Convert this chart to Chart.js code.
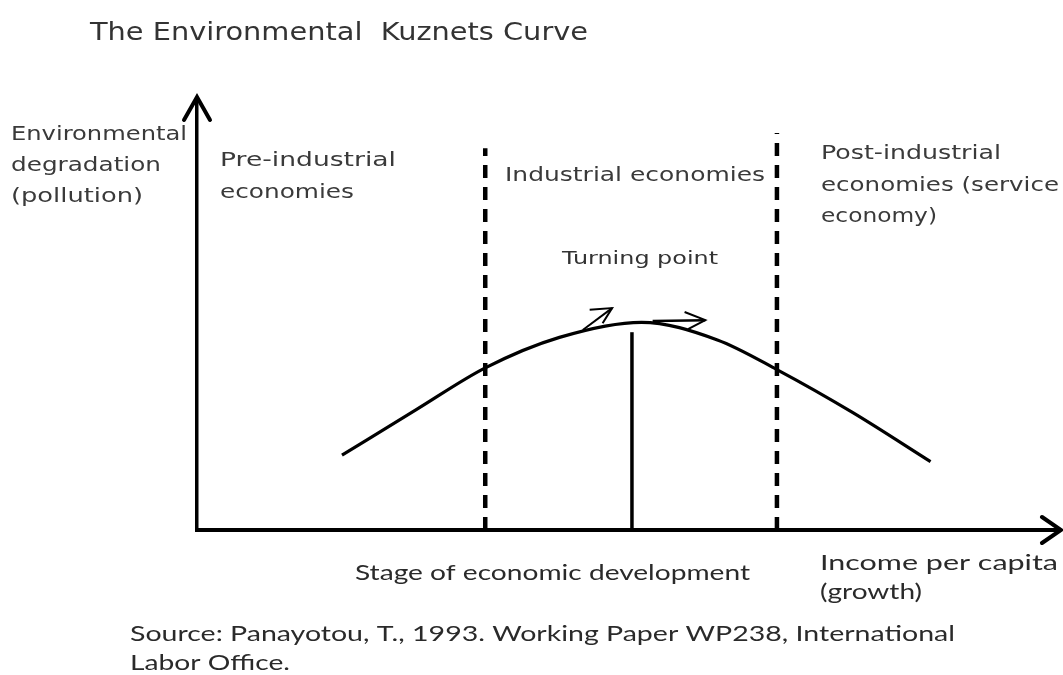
<!DOCTYPE html>
<html>
<head>
<meta charset="utf-8">
<title>The Environmental Kuznets Curve</title>
<script src="https://cdn.jsdelivr.net/npm/chart.js@4.4.0/dist/chart.umd.min.js"></script>
<style>
    html, body { margin: 0; padding: 0; background: #fff; }
    #ekc-chart { display: block; }
</style>
</head>
<body>
<canvas id="ekc-chart" width="1063" height="675"></canvas>
<script>
// Curve (income per capita vs. degradation, 0-100 scale)
const curveX = [16.8, 25.5, 33.4, 42.0, 51.5, 60.3, 67.3, 76.0, 85.0];
const curveY = [17.4, 28.1, 37.7, 44.8, 48.3, 44.2, 37.2, 27.3, 15.9];

// Stage boundaries (dashed) and turning point
const stageBoundaryX = [33.4, 67.2];
const stageBoundaryTop = [88.8, 92.3];
const turningPointX = [50.4];
const turningPointTop = [46.0];

// Little arrows at the top of the curve: shaft [from, to], head [wing, tip, wing]
const upArrowShaft = [[44.7, 46.5], [48.1, 51.6]];
const upArrowHead = [[45.5, 51.2], [48.1, 51.6], [47.0, 48.1]];
const rightArrowShaft = [[52.8, 48.6], [58.9, 48.8]];
const rightArrowHead = [[56.5, 50.7], [58.9, 48.8], [56.9, 46.7]];

// Texts
const chartTitle = 'The Environmental  Kuznets Curve';
const yAxisLabel = ['Environmental', 'degradation', '(pollution)'];
const stageLabels = [
    ['Pre-industrial', 'economies'],
    ['Industrial economies'],
    ['Post-industrial', 'economies (service', 'economy)']
];
const turningLabel = 'Turning point';
const xAxisLabel = 'Stage of economic development';
const xAxisEndLabel = ['Income per capita', '(growth)'];
const sourceNote = ['Source: Panayotou, T., 1993. Working Paper WP238, International', 'Labor Office.'];

const toPoints = pairs => pairs.map(p => ({ x: p[0], y: p[1] }));

function lineSet(points, extra) {
    return Object.assign({
        data: points,
        showLine: true,
        borderColor: '#000',
        borderWidth: 3,
        pointRadius: 0,
        fill: false
    }, extra || {});
}

const datasets = [
    lineSet(curveX.map((x, i) => ({ x: x, y: curveY[i] })), { cubicInterpolationMode: 'monotone', borderWidth: 3.2 }),
    ...stageBoundaryX.map((x, i) => lineSet([{ x: x, y: 0 }, { x: x, y: stageBoundaryTop[i] }], {
        borderWidth: 4.5, borderDash: [13, 9]
    })),
    ...turningPointX.map((x, i) => lineSet([{ x: x, y: 0 }, { x: x, y: turningPointTop[i] }], { borderWidth: 3.5 })),
    lineSet(toPoints(upArrowShaft), { borderWidth: 2 }),
    lineSet(toPoints(upArrowHead), { borderWidth: 2 }),
    lineSet(toPoints(rightArrowShaft), { borderWidth: 2.5 }),
    lineSet(toPoints(rightArrowHead), { borderWidth: 2 })
];

// Draw one line of text squeezed/stretched to the width it has in the picture
function fitText(ctx, text, x, y, w, font) {
    ctx.font = font;
    const m = ctx.measureText(text).width;
    ctx.save();
    ctx.translate(x, y);
    ctx.scale(w / m, 1);
    ctx.fillText(text, 0, 0);
    ctx.restore();
}

const sans = '"DejaVu Sans", Verdana, sans-serif';
const calib = 'Lato, "Open Sans", sans-serif';

const textLayout = [
    { lines: [chartTitle], x: 90, y: [40], w: [498], font: '24px ' + sans, color: '#333' },
    { lines: yAxisLabel, x: 11, y: [140, 171, 202], w: [176, 150, 132], font: '19px ' + sans, color: '#3a3a3a' },
    { lines: stageLabels[0], x: 220, y: [166, 198], w: [176, 134], font: '19px ' + sans, color: '#3a3a3a' },
    { lines: stageLabels[1], x: 505, y: [181], w: [260], font: '19px ' + sans, color: '#3a3a3a' },
    { lines: stageLabels[2], x: 821, y: [159, 191, 222], w: [180, 238, 116], font: '19px ' + sans, color: '#3a3a3a' },
    { lines: [turningLabel], x: 562, y: [264], w: [156], font: '18px ' + sans, color: '#333' },
    { lines: [xAxisLabel], x: 355, y: [580], w: [395], font: '21px ' + calib, color: '#2a2a2a' },
    { lines: xAxisEndLabel, x: 820, y: [570, 599], w: [238, 102], font: '21px ' + calib, color: '#2a2a2a' },
    { lines: sourceNote, x: 130, y: [641, 670], w: [825, 160], font: '21px ' + calib, color: '#2a2a2a' }
];

const decorPlugin = {
    id: 'decor',
    afterDraw(chart) {
        const ctx = chart.ctx;
        const area = chart.chartArea;

        // axis arrowheads
        ctx.save();
        ctx.strokeStyle = '#000';
        ctx.lineWidth = 4;
        ctx.lineCap = 'round';
        ctx.lineJoin = 'miter';
        ctx.beginPath();
        ctx.moveTo(area.left - 13, area.top + 20);
        ctx.lineTo(area.left, area.top - 3);
        ctx.lineTo(area.left + 13, area.top + 20);
        ctx.stroke();
        ctx.beginPath();
        ctx.moveTo(area.right - 18, area.bottom - 13);
        ctx.lineTo(area.right + 1, area.bottom);
        ctx.lineTo(area.right - 18, area.bottom + 13);
        ctx.stroke();
        ctx.restore();

        // texts
        ctx.save();
        ctx.textBaseline = 'alphabetic';
        ctx.textAlign = 'left';
        textLayout.forEach(item => {
            ctx.fillStyle = item.color;
            item.lines.forEach((line, i) => fitText(ctx, line, item.x, item.y[i], item.w[i], item.font));
        });
        ctx.restore();
    }
};

const hiddenScale = borderWidth => ({
    type: 'linear',
    min: 0,
    max: 100,
    ticks: { display: false },
    grid: { display: false, drawTicks: false },
    border: { display: true, color: '#000', width: borderWidth }
});

new Chart(document.getElementById('ekc-chart'), {
    type: 'scatter',
    data: { datasets: datasets },
    options: {
        responsive: false,
        animation: false,
        layout: { padding: { left: 197, right: 3, top: 100, bottom: 145 } },
        plugins: {
            legend: { display: false },
            tooltip: { enabled: false }
        },
        scales: {
            x: hiddenScale(4),
            y: hiddenScale(3.5)
        }
    },
    plugins: [decorPlugin]
});
</script>
</body>
</html>
